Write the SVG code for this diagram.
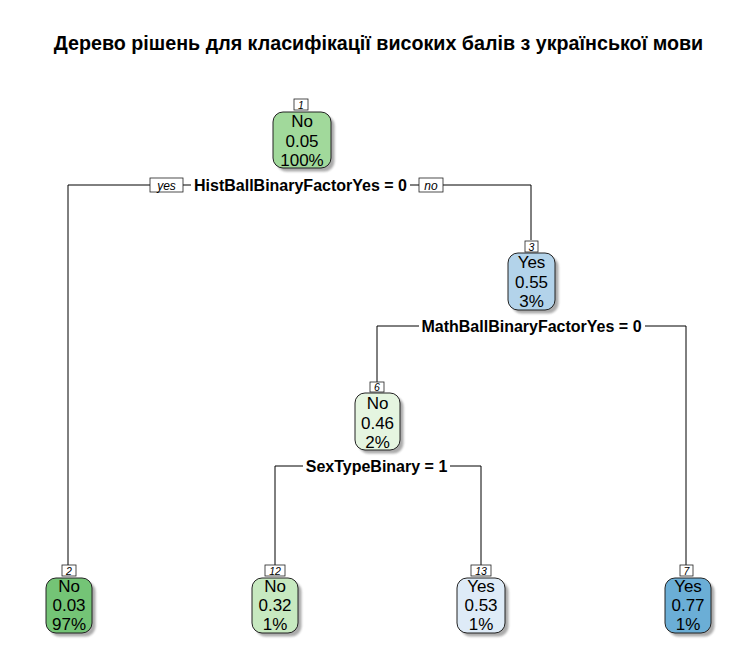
<svg xmlns="http://www.w3.org/2000/svg" width="756" height="671" viewBox="0 0 756 671">
<style>
.title{font-family:"Liberation Sans",Arial,sans-serif;font-weight:bold;font-size:19.7px;fill:#000}
.nt{font-family:"Liberation Sans",Arial,sans-serif;font-size:17px;fill:#000;text-anchor:middle}
.lb{font-family:"Liberation Sans",Arial,sans-serif;font-size:10.5px;font-style:italic;fill:#000;text-anchor:middle}
.sp{font-family:"Liberation Sans",Arial,sans-serif;font-size:16px;font-weight:bold;fill:#000;text-anchor:middle}
.yn{font-family:"Liberation Sans",Arial,sans-serif;font-size:12px;font-style:italic;fill:#000;text-anchor:middle}
.box{stroke:#222;stroke-width:1}
.lbox{fill:#fff;stroke:#222;stroke-width:0.8}
.sh{fill:#8f8f8f;opacity:0.75}
.edge{fill:none;stroke:#000;stroke-width:1}
</style>
<defs>
<filter id="blur" x="-20%" y="-20%" width="140%" height="140%"><feGaussianBlur stdDeviation="1"/></filter>
</defs>
<rect width="756" height="671" fill="#fff"/>
<text class="title" x="378.5" y="50" text-anchor="middle">Дерево рішень для класифікації високих балів з української мови</text>

<g id="connectors">
<path class="edge" d="M150,185 H68 V565"/>
<path class="edge" d="M183,185 H191"/>
<path class="edge" d="M410,185 H419"/>
<path class="edge" d="M443,185 H531 V240"/>
<path class="edge" d="M419,326 H377 V382"/>
<path class="edge" d="M645,326 H686 V565"/>
<path class="edge" d="M303,466 H275 V565"/>
<path class="edge" d="M450,466 H481 V565"/>
<rect class="lbox" x="150" y="178" width="33" height="14"/>
<text class="yn" x="166.5" y="189.5">yes</text>
<rect class="lbox" x="419" y="178" width="24" height="14"/>
<text class="yn" x="431" y="189.5">no</text>
<text class="sp" x="300.5" y="191">HistBallBinaryFactorYes = 0</text>
<text class="sp" x="531.5" y="332">MathBallBinaryFactorYes = 0</text>
<text class="sp" x="376.5" y="472">SexTypeBinary = 1</text>
</g>

<g id="node1">
<rect class="sh" x="276.5" y="115.5" width="58" height="56" rx="10" filter="url(#blur)"/>
<rect class="box" x="273" y="112" width="58" height="56" rx="10" fill="#a1d99b"/>
<rect class="lbox" x="294" y="99" width="14" height="11"/>
<text class="lb" x="301" y="108.5">1</text>
<text class="nt" x="302" y="127">No</text>
<text class="nt" x="302" y="147">0.05</text>
<text class="nt" x="302" y="166">100%</text>
</g>

<g id="node3">
<rect class="sh" x="511.5" y="256.5" width="47" height="57" rx="10" filter="url(#blur)"/>
<rect class="box" x="508" y="253" width="47" height="57" rx="10" fill="#b3d3ea"/>
<rect class="lbox" x="525" y="241" width="13" height="11"/>
<text class="lb" x="531.5" y="250.5">3</text>
<text class="nt" x="531.5" y="268">Yes</text>
<text class="nt" x="531.5" y="288">0.55</text>
<text class="nt" x="531.5" y="307">3%</text>
</g>

<g id="node6">
<rect class="sh" x="358.5" y="396.5" width="45" height="57" rx="10" filter="url(#blur)"/>
<rect class="box" x="355" y="393" width="45" height="57" rx="10" fill="#e5f5e0"/>
<rect class="lbox" x="370" y="382" width="14" height="10"/>
<text class="lb" x="377" y="390.5">6</text>
<text class="nt" x="377.5" y="409">No</text>
<text class="nt" x="377.5" y="429">0.46</text>
<text class="nt" x="377.5" y="448">2%</text>
</g>

<g id="node2">
<rect class="sh" x="49.5" y="581.5" width="46" height="55" rx="10" filter="url(#blur)"/>
<rect class="box" x="46" y="578" width="46" height="55" rx="10" fill="#74c476"/>
<rect class="lbox" x="62" y="565" width="14" height="11"/>
<text class="lb" x="69" y="574.5">2</text>
<text class="nt" x="69" y="592">No</text>
<text class="nt" x="69" y="611">0.03</text>
<text class="nt" x="69" y="630">97%</text>
</g>

<g id="node12">
<rect class="sh" x="255.5" y="581.5" width="46" height="55" rx="10" filter="url(#blur)"/>
<rect class="box" x="252" y="578" width="46" height="55" rx="10" fill="#c7e9c0"/>
<rect class="lbox" x="265" y="565" width="20" height="11"/>
<text class="lb" x="275" y="574.5">12</text>
<text class="nt" x="275" y="592">No</text>
<text class="nt" x="275" y="611">0.32</text>
<text class="nt" x="275" y="630">1%</text>
</g>

<g id="node13">
<rect class="sh" x="460.5" y="581.5" width="48" height="55" rx="10" filter="url(#blur)"/>
<rect class="box" x="457" y="578" width="48" height="55" rx="10" fill="#deebf7"/>
<rect class="lbox" x="471" y="565" width="20" height="11"/>
<text class="lb" x="481" y="574.5">13</text>
<text class="nt" x="481" y="592">Yes</text>
<text class="nt" x="481" y="611">0.53</text>
<text class="nt" x="481" y="630">1%</text>
</g>

<g id="node7">
<rect class="sh" x="668.5" y="581.5" width="46" height="55" rx="10" filter="url(#blur)"/>
<rect class="box" x="665" y="578" width="46" height="55" rx="10" fill="#6baed6"/>
<rect class="lbox" x="680" y="565" width="13" height="11"/>
<text class="lb" x="686.5" y="574.5">7</text>
<text class="nt" x="688" y="592">Yes</text>
<text class="nt" x="688" y="611">0.77</text>
<text class="nt" x="688" y="630">1%</text>
</g>
</svg>
